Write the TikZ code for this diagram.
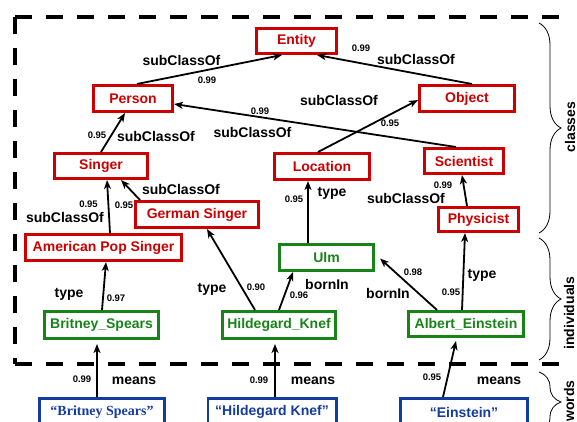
\documentclass[tikz,border=0pt]{standalone}
\usepackage{fontspec}
\setmainfont{Liberation Sans}
\newfontfamily\timesf{Liberation Serif}
\usetikzlibrary{arrows.meta,decorations.pathreplacing}
\definecolor{cred}{RGB}{204,0,0}
\definecolor{cgreen}{RGB}{24,132,24}
\definecolor{cblue}{RGB}{20,60,160}
\begin{document}
\begin{tikzpicture}[x=1pt,y=-1pt,
  box/.style={draw, line width=2.6pt, inner sep=0pt, font=\bfseries\fontsize{14}{16}\selectfont},
  cls/.style={box, draw=cred, text=cred},
  ind/.style={box, draw=cgreen, text=cgreen},
  wrd/.style={box, draw=cblue, text=cblue},
  rel/.style={font=\bfseries\fontsize{14}{16}\selectfont, inner sep=0pt},
  num/.style={font=\bfseries\fontsize{9.5}{11}\selectfont, inner sep=0pt},
  edge/.style={line width=1.8pt, -{Stealth[length=9pt,width=7pt,inset=2.5pt]}},
  frame/.style={line width=4.5pt, dash pattern=on 17pt off 14pt},
  brc/.style={line width=0.8pt, decorate, decoration={brace, amplitude=22pt}},
  side/.style={font=\bfseries\fontsize{14}{16}\selectfont, rotate=90, inner sep=0pt}]
\useasboundingbox (0,0) rectangle (577,421);

% frame
\draw[frame] (15,17) -- (563,17);
\draw[frame] (15,17) -- (15,364);
\draw[frame] (15,364) -- (563,364);

% braces
\draw[brc] (539,23) -- (539,233);
\draw[brc] (539,238) -- (539,360);
\draw[brc] (539,372) -- (539,432);
\node[side] (lcls) at (570,127) {classes};
\node[side] (lind) at (569,313) {individuals};
\node[side] (lwrd) at (569,401) {words};

% classes
\node[cls, minimum width=80.4pt, minimum height=25.4pt] (entity) at (296.5,41) {Entity};
\node[cls, minimum width=79.4pt, minimum height=26.4pt] (person) at (133,98.5) {Person};
\node[cls, minimum width=95.4pt, minimum height=26.4pt] (object) at (467,98.5) {Object};
\node[cls, minimum width=93.4pt, minimum height=25.4pt] (singer) at (101,166) {Singer};
\node[cls, minimum width=95.4pt, minimum height=26.4pt] (location) at (322,166.5) {Location};
\node[cls, minimum width=79.4pt, minimum height=25.4pt] (scientist) at (464,161) {Scientist};
\node[cls, minimum width=123.4pt, minimum height=26.4pt] (german) at (197,214.5) {German Singer};
\node[cls, minimum width=156.4pt, minimum height=26.4pt] (aps) at (103.5,247.5) {American Pop Singer};
\node[cls, minimum width=80.4pt, minimum height=24.4pt] (physicist) at (478.5,219.5) {Physicist};

% individuals
\node[ind, minimum width=94.4pt, minimum height=26.4pt] (ulm) at (326.5,257.5) {Ulm};
\node[ind, minimum width=114.4pt, minimum height=27.4pt] (britney) at (101.5,325) {Britney\_Spears};
\node[ind, minimum width=113.4pt, minimum height=27.4pt] (hildegard) at (279,325) {Hildegard\_Knef};
\node[ind, minimum width=115.4pt, minimum height=25.4pt] (albert) at (466,324) {Albert\_Einstein};

% words
\node[wrd, minimum width=125.4pt, minimum height=27.4pt] (wbritney) at (102,412) {\timesf\bfseries “Britney Spears”};
\node[wrd, minimum width=128.4pt, minimum height=27.4pt] (whildegard) at (272,412) {“Hildegard Knef”};
\node[wrd, minimum width=127.4pt, minimum height=27.4pt] (weinstein) at (464,412) {“Einstein”};

% edges
\draw[edge] ([xshift=4pt]person.north) -- ([xshift=-14.5pt]entity.south);
\draw[edge] ([xshift=5pt]object.north) -- ([xshift=20.5pt]entity.south);
\draw[edge] ([xshift=-8pt]scientist.north) -- ([yshift=-5.5pt]person.east);
\draw[edge] ([xshift=-4pt]location.north) -- ([yshift=-1.5pt]object.west);
\draw[edge] (singer.north) -- ([xshift=-8pt]person.south);
\draw[edge] ([xshift=-57pt]german.north) -- ([xshift=20pt]singer.south);
\draw[edge] ([xshift=6.5pt]aps.north) -- ([xshift=6pt]singer.south);
\draw[edge] ([xshift=-11.5pt]physicist.north) -- ([xshift=-2pt]scientist.south);
\draw[edge] ([xshift=-18.5pt]ulm.north) -- ([xshift=-14pt]location.south);
\draw[edge] ([xshift=0.5pt]britney.north) -- ([xshift=2.5pt]aps.south);
\draw[edge] ([xshift=-24pt]hildegard.north) -- ([xshift=10pt]german.south);
\draw[edge] (hildegard.north) -- ([xshift=-33.5pt]ulm.south);
\draw[edge] ([xshift=-29pt]albert.north) -- ([xshift=5pt,yshift=-1pt]ulm.east);
\draw[edge] ([xshift=-4pt]albert.north) -- ([xshift=-13.5pt]physicist.south);
\draw[edge] ([xshift=-5pt]wbritney.north) -- ([xshift=-4.5pt,yshift=-4pt]britney.south);
\draw[edge] ([xshift=3pt]whildegard.north) -- ([xshift=-4pt,yshift=-4pt]hildegard.south);
\draw[edge] ([xshift=-21pt]weinstein.north) -- ([xshift=-10pt,yshift=-3pt]albert.south);

% labels
\node[rel] (r1) at (181.5,60) {subClassOf};   \node[num] (n1) at (207,80) {0.99};
\node[rel] (r2) at (416,59) {subClassOf};     \node[num] (n2) at (361,48) {0.99};
\node[num] (n3) at (260,111) {0.99};          \node[rel] (r3) at (252.5,132) {subClassOf};
\node[rel] (r4) at (339,100) {subClassOf};    \node[num] (n4) at (390,123) {0.95};
\node[num] (n5) at (97,135) {0.95};           \node[rel] (r5) at (156,136) {subClassOf};
\node[rel] (r6) at (181,189) {subClassOf};    \node[num] (n6) at (124,205) {0.95};
\node[num] (n7) at (88.5,204.5) {0.95};       \node[rel] (r7) at (65,217) {subClassOf};
\node[num] (n8) at (443,185) {0.99};          \node[rel] (r8) at (406,198) {subClassOf};
\node[num] (n9) at (294,199) {0.95};          \node[rel] (r9) at (332,193) {type};
\node[rel] (r10) at (69,294) {type};          \node[num] (n10) at (116,298) {0.97};
\node[rel] (r11) at (212,289) {type};         \node[num] (n11) at (256,287) {0.90};
\node[num] (n12) at (299,295) {0.96};         \node[rel] (r12) at (327,284) {bornIn};
\node[num] (n13) at (413,272) {0.98};         \node[rel] (r13) at (388,293) {bornIn};
\node[rel] (r14) at (482,275) {type};         \node[num] (n14) at (451,292) {0.95};
\node[num] (n15) at (82,379) {0.99};          \node[rel] (r15) at (134,381) {means};
\node[num] (n16) at (259,380) {0.99};         \node[rel] (r16) at (313,381) {means};
\node[num] (n17) at (432,377) {0.95};         \node[rel] (r17) at (499,381) {means};
\end{tikzpicture}
\end{document}
